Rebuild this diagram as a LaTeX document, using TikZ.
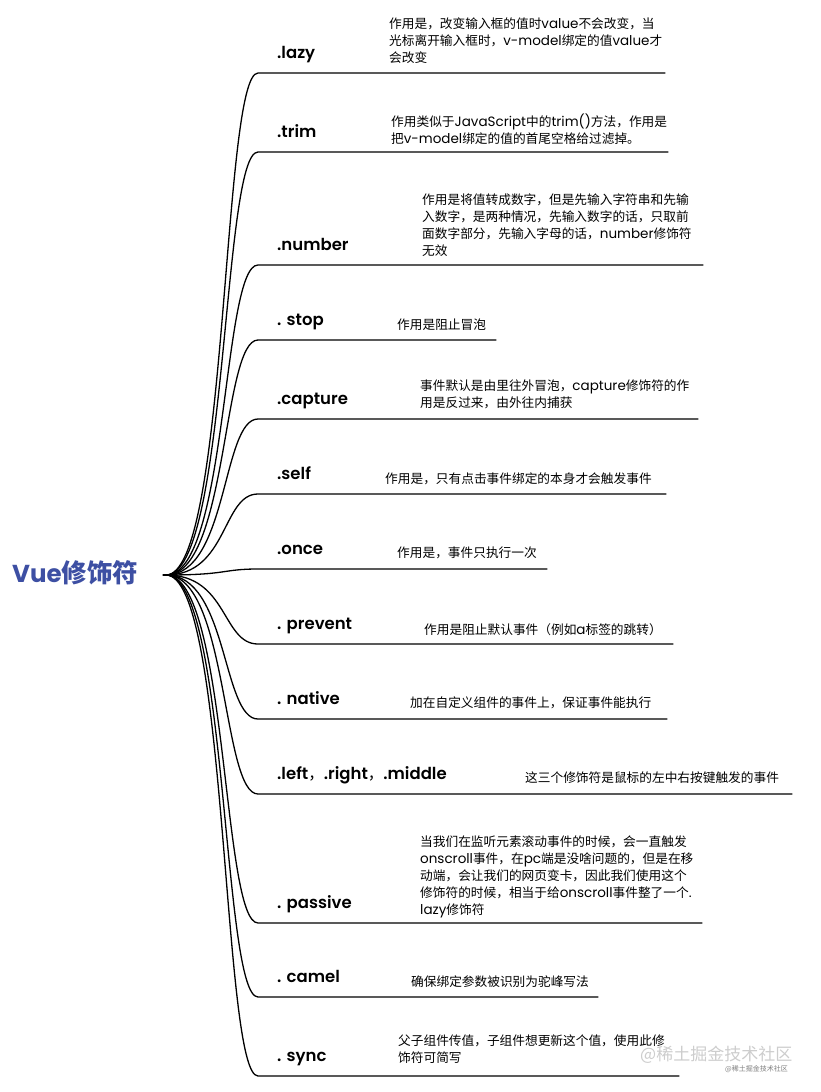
\documentclass[tikz,border=0pt]{standalone}
\usepackage{fontspec}
\setmainfont{Poppins}
\newfontfamily\lblfont{Poppins SemiBold}
\newfontfamily\zh{Noto Sans CJK SC}
\newfontfamily\zhs[Scale=0.94]{Noto Sans CJK SC}
\newcommand\zz[1]{{\zhs #1}}
\definecolor{rootblue}{RGB}{61,79,163}
\definecolor{wm}{RGB}{205,205,205}
\tikzset{
  branch/.style={line width=1.3pt, black, line cap=round},
  lbl/.style={anchor=base west, inner sep=0pt, font=\lblfont\fontsize{16.5}{20}\selectfont},
  desc/.style={anchor=north west, inner sep=0pt, align=left, font=\fontsize{13.5}{16.8}\selectfont},
}
\begin{document}
\begin{tikzpicture}[x=1pt,y=-1pt]
\useasboundingbox (0,0) rectangle (820,1092);
\fill[white] (0,0) rectangle (820,1092);
\node[anchor=base west, inner sep=0pt, text=rootblue] (root) at (12,582)
  {\fontsize{24.5}{28}\selectfont\bfseries Vue{\zh\fontsize{25.5}{28}\selectfont\bfseries 修饰符}};
\coordinate (r) at (166,575);
\coordinate (r0) at (163,575);
\draw[branch] (r0) -- (r);
% branch endpoints
\foreach \n/\y/\e in {1/73/665, 2/152/668, 3/265/703, 4/340/496, 5/419/698, 6/494/666, 7/569/547, 8/644/673, 9/719/667, 10/794/792, 11/923/702, 12/997/598, 13/1076/679}{
  \coordinate (b\n) at (258,\y);
  \coordinate (e\n) at (\e,\y);
  \draw[branch] (r) .. controls +(62,0) and +(-36,0) .. (b\n) -- (e\n);
}
% labels
\node[lbl] (l1) at (277,58) {.lazy};
\node[lbl] (l2) at (277,137) {.trim};
\node[lbl] (l3) at (277,250) {.number};
\node[lbl] (l4) at (277,325) {. stop};
\node[lbl] (l5) at (277,404) {.capture};
\node[lbl] (l6) at (277,479) {.self};
\node[lbl] (l7) at (277,554) {.once};
\node[lbl] (l8) at (277,629) {. prevent};
\node[lbl] (l9) at (277,704) {. native};
\node[lbl] (l10) at (277,779) {.left\zz{，}.right\zz{，}.middle};
\node[lbl] (l11) at (277,908) {. passive};
\node[lbl] (l12) at (277,982) {. camel};
\node[lbl] (l13) at (277,1061) {. sync};
% descriptions
\node[desc] (d1) at (389,18) {\zz{作用是，改变输入框的值时}value\zz{不会改变，当}\\\zz{光标离开输入框时，}v-model\zz{绑定的值}value\zz{才}\\\zz{会改变}};
\node[desc] (d2) at (391,114) {\zz{作用类似于}JavaScript\zz{中的}trim()\zz{方法，作用是}\\\zz{把}v-model\zz{绑定的值的首尾空格给过滤掉。}};
\node[desc] (d3) at (422,194) {\zz{作用是将值转成数字，但是先输入字符串和先输}\\\zz{入数字，是两种情况，先输入数字的话，只取前}\\\zz{面数字部分，先输入字母的话，}number\zz{修饰符}\\\zz{无效}};
\node[desc] (d4) at (397,319) {\zz{作用是阻止冒泡}};
\node[desc] (d5) at (420,380) {\zz{事件默认是由里往外冒泡，}capture\zz{修饰符的作}\\\zz{用是反过来，由外往内捕获}};
\node[desc] (d6) at (385,473) {\zz{作用是，只有点击事件绑定的本身才会触发事件}};
\node[desc] (d7) at (397,547) {\zz{作用是，事件只执行一次}};
\node[desc] (d8) at (424,623) {\zz{作用是阻止默认事件（例如}a\zz{标签的跳转）}};
\node[desc] (d9) at (410,697) {\zz{加在自定义组件的事件上，保证事件能执行}};
\node[desc] (d10) at (525,772) {\zz{这三个修饰符是鼠标的左中右按键触发的事件}};
\node[desc] (d11) at (420,836) {\zz{当我们在监听元素滚动事件的时候，会一直触发}\\onscroll\zz{事件，在}pc\zz{端是没啥问题的，但是在移}\\\zz{动端，会让我们的网页变卡，因此我们使用这个}\\\zz{修饰符的时候，相当于给}onscroll\zz{事件整了一个}.\\lazy\zz{修饰符}};
\node[desc] (d12) at (411,976) {\zz{确保绑定参数被识别为驼峰写法}};
\node[desc] (d13) at (398,1035) {\zz{父子组件传值，子组件想更新这个值，使用此修}\\\zz{饰符可简写}};
% watermark
\node[anchor=west, inner sep=0pt, text=wm, font=\zh\fontsize{17}{20}\selectfont] (wm1) at (640,1055) {@稀土掘金技术社区};
\node[anchor=west, inner sep=0pt, text=gray, font=\zh\fontsize{7}{8}\selectfont] (wm2) at (725,1069) {@稀土掘金技术社区};
\end{tikzpicture}
\end{document}
